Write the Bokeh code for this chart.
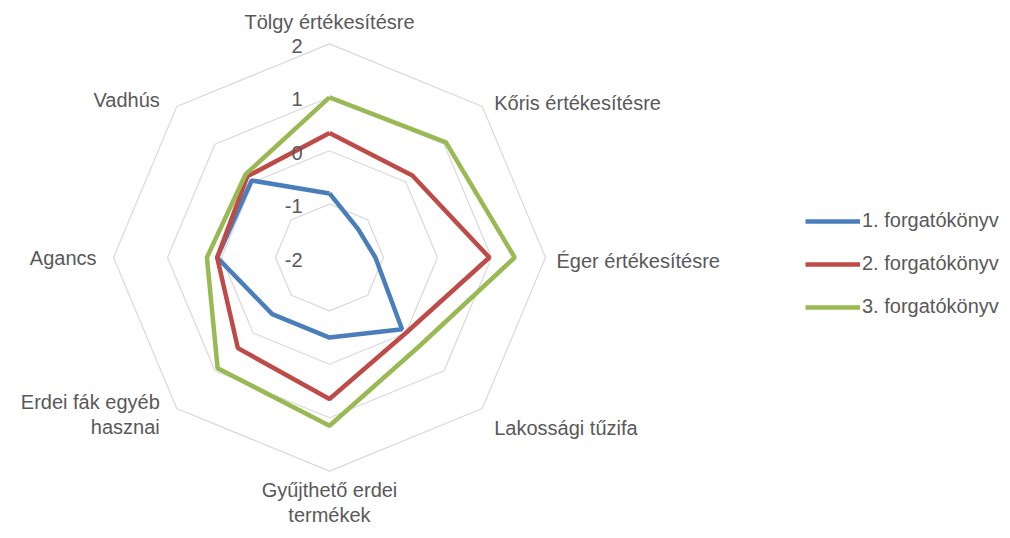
import numpy as np
from bokeh.plotting import figure
from bokeh.models import Range1d
from bokeh.core.properties import value
from bokeh.embed import file_html
from bokeh.resources import INLINE

categories = ["Tölgy értékesítésre", "Kőris értékesítésre", "Éger értékesítésre",
              "Lakossági tűzifa", "Gyűjthető erdei\ntermékek", "Erdei fák egyéb\nhasznai",
              "Agancs", "Vadhús"]
series_names = ["1. forgatókönyv", "2. forgatókönyv", "3. forgatókönyv"]
s1 = [-0.8, -1.25, -1.15, -0.1, -0.5, -0.5, 0.08, 0.04]
s2 = [0.33, 0.17, 0.96, 0.0, 0.65, 0.4, 0.08, 0.15]
s3 = [1.0, 1.05, 1.43, 0.35, 1.15, 0.93, 0.27, 0.2]
ticks = [-2, -1, 0, 1, 2]
colors = ["#4A7EBB", "#BE4B48", "#98B954"]

FONT = "Liberation Sans"
TXT = "#595959"
FS = "20px"
vmin = ticks[0]
n = len(categories)
ang = np.pi / 2 - np.arange(n) * 2 * np.pi / n
cx_px, cy_px = 329, 257
sx, sy = 54.0, 53.4
W, H = 1010, 538

p = figure(width=W, height=H, output_backend="svg", toolbar_location=None,
           x_range=Range1d(-cx_px / sx, (W - cx_px) / sx),
           y_range=Range1d(-(H - cy_px) / sy, cy_px / sy),
           min_border=0)
p.axis.visible = False
p.grid.visible = False
p.outline_line_color = None
p.background_fill_color = "white"

# rings
for t in ticks[1:]:
    r = t - vmin
    xs = list(r * np.cos(ang)) + [r * np.cos(ang[0])]
    ys = list(r * np.sin(ang)) + [r * np.sin(ang[0])]
    p.line(xs, ys, line_color="#D9D9D9", line_width=1.2)

# series
for vals, c, name in zip([s1, s2, s3], colors, series_names):
    r = np.array(vals) - vmin
    xs = list(r * np.cos(ang)) + [r[0] * np.cos(ang[0])]
    ys = list(r * np.sin(ang)) + [r[0] * np.sin(ang[0])]
    p.line(xs, ys, line_color=c, line_width=4.5, legend_label=name)

# tick labels
p.text(x=[0] * len(ticks), y=[t - vmin for t in ticks], text=[str(t) for t in ticks],
       text_align="right", text_baseline="middle", x_offset=-27, y_offset=2,
       text_font=value(FONT), text_font_size=FS, text_color=TXT)

# category labels
R = ticks[-1] - vmin
lx = R * np.cos(ang)
ly = R * np.sin(ang)
aligns = ["center", "left", "left", "left", "center", "right", "right", "right"]
baselines = ["bottom", "middle", "middle", "middle", "top", "middle", "middle", "middle"]
xoff = [0, 12, 11, 12, 0, -17, -17, -17]
yoff = [-11, -3, 3, 19, 8, 6, 0, -6]
for i in range(n):
    p.text(x=[lx[i]], y=[ly[i]], text=[categories[i]], text_align=aligns[i],
           text_baseline=baselines[i], x_offset=xoff[i], y_offset=yoff[i],
           text_font=value(FONT), text_font_size=FS, text_color=TXT,
           text_line_height=1.15)

lg = p.legend[0]
lg.location = (805, 220)
lg.padding = 0
lg.margin = 0
lg.spacing = 20
lg.glyph_width = 55
lg.glyph_height = 20
lg.label_height = 20
lg.label_standoff = 2
lg.border_line_color = None
lg.background_fill_alpha = 0
lg.label_text_font = FONT
lg.label_text_font_size = FS
lg.label_text_color = TXT

open("out.html", "w").write(file_html(p, INLINE))
